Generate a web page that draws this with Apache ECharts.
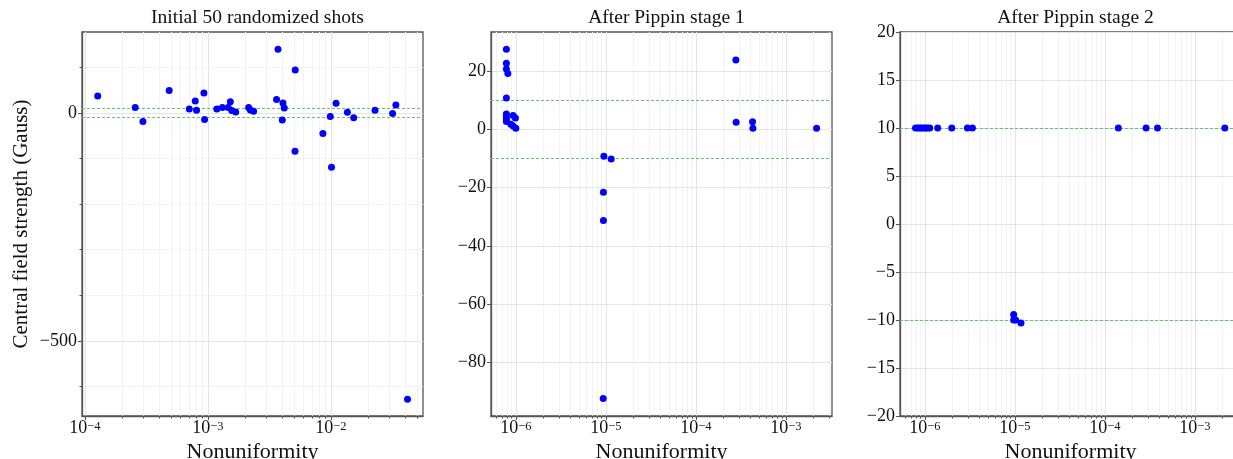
<!DOCTYPE html>
<html>
<head>
<meta charset="utf-8">
<script src="https://cdn.jsdelivr.net/npm/echarts@6/dist/echarts.min.js"></script>
<style>
html,body{margin:0;padding:0;background:#fff;}
#chart{width:1233px;height:459px;}
</style>
</head>
<body>
<div id="chart"></div>
<script>
// ---------- DATA ----------
const titles = ['Initial 50 randomized shots', 'After Pippin stage 1', 'After Pippin stage 2'];
const xAxisName = 'Nonuniformity';
const yAxisName = 'Central field strength (Gauss)';
const thresholds = [10, -10];

// Panel 1: initial shots
const p1x = [1.27e-4, 2.56e-4, 2.96e-4, 4.84e-4, 7.05e-4, 7.88e-4, 8.07e-4, 9.27e-4, 9.38e-4, 1.18e-3,
             1.31e-3, 1.46e-3, 1.52e-3, 1.56e-3, 1.68e-3, 2.14e-3, 2.21e-3, 2.35e-3, 3.61e-3, 3.71e-3,
             4.02e-3, 4.07e-3, 4.17e-3, 5.12e-3, 5.10e-3, 8.6e-3, 9.87e-3, 1.01e-2, 1.10e-2, 1.36e-2,
             1.53e-2, 2.28e-2, 3.17e-2, 3.37e-2, 4.19e-2];
const p1y = [37.6, 12, -18.7, 49.5, 9, 26.6, 6.2, 44, -14.3, 9,
             12, 12, 25, 5.5, 2.4, 12, 6.8, 4, 29.7, 140,
             -15, 22, 11, 94.7, -84, -45, -7.7, -119, 21.5, 1.8,
             -10, 6.2, -1, 17.8, -628];

// Panel 2: after stage 1
const p2x = [7.86e-7, 7.86e-7, 7.86e-7, 8.15e-7, 7.86e-7, 7.86e-7, 7.86e-7, 7.86e-7, 7.86e-7, 8.8e-7,
             9.33e-7, 9.9e-7, 9.33e-7, 1.0e-6, 2.78e-4, 2.8e-4, 4.26e-4, 4.3e-4, 2.19e-3,
             9.5e-6, 1.146e-5, 9.4e-6, 9.4e-6, 9.35e-6];
const p2y = [27.4, 22.6, 20.6, 19.1, 10.7, 5.2, 4.2, 3.3, 2.6, 1.7,
             4.7, 3.8, 1.1, 0.3, 23.7, 2.4, 2.5, 0.3, 0.3,
             -9.3, -10.2, -21.6, -31.3, -92.3];

// Panel 3: after stage 2
const p3x = [7.88e-7, 8.36e-7, 8.81e-7, 9.27e-7, 9.75e-7, 1.026e-6, 1.08e-6, 1.135e-6, 1.39e-6, 1.99e-6,
             2.97e-6, 3.38e-6, 1.41e-4, 2.87e-4, 3.84e-4, 2.15e-3,
             9.7e-6, 9.7e-6, 1.02e-5, 1.17e-5];
const p3y = [10, 10, 10, 10, 10, 10, 10, 10, 10, 10,
             10, 10, 10, 10, 10, 10,
             -9.42, -10, -10, -10.3];

// Axis ranges and tick values
const p1xRange = [9.46e-5, 0.056];
const p1yRange = [-665, 178];
const p2xRange = [5.3e-7, 3.25e-3];
const p2yRange = [-98.3, 33.3];
const p3xRange = [5.3e-7, 3.25e-3];
const p3yRange = [-20, 20];
const p1xTicks = [1e-4, 1e-3, 1e-2];
const p23xTicks = [1e-6, 1e-5, 1e-4, 1e-3];
const p1yTicks = [-500, 0];
const p1yMinorTicks = [-600, -400, -300, -200, -100, 100];
const p2yTicks = [-80, -60, -40, -20, 0, 20];
const p3yTicks = [-20, -15, -10, -5, 0, 5, 10, 15, 20];

// ---------- HELPERS ----------
function minorLog(range) {
  const out = [];
  const lo = Math.floor(Math.log10(range[0])), hi = Math.ceil(Math.log10(range[1]));
  for (let e = lo; e <= hi; e++) {
    for (let m = 2; m <= 9; m++) {
      const v = m * Math.pow(10, e);
      if (v >= range[0] && v <= range[1]) out.push(v);
    }
  }
  return out;
}
const FONT = '"Liberation Serif", "DejaVu Serif", serif';
const SPINE = '#555555';
const MAJOR_GRID = '#e4e4e4';
const MINOR_GRID = '#f3f3f3';
const fmtY = v => (v < 0 ? '\u2212' + (-v) : String(v));
const fmtX = v => '{b|10}{s|\u2212' + Math.round(-Math.log10(v)) + '}';

const grids = [
  {left: 82, top: 32, width: 341, height: 384},
  {left: 491, top: 32, width: 341, height: 384},
  {left: 900, top: 32, width: 341, height: 384}
];
grids.forEach(g => {
  g.show = true; g.borderColor = SPINE; g.borderWidth = 1.3; g.backgroundColor = 'transparent';
  g.containLabel = false; g.outerBoundsMode = 'none';
});

function majorX(gi, range, ticks) {
  return {
    type: 'log', logBase: 10, gridIndex: gi, min: range[0], max: range[1], position: 'bottom',
    name: xAxisName, nameLocation: 'middle', nameGap: 25, nameMoveOverlap: false,
    nameTextStyle: {fontFamily: FONT, fontSize: 22, lineHeight: 22, color: '#111'},
    axisLine: {show: true, onZero: false, lineStyle: {color: SPINE, width: 1.3}},
    axisTick: {show: true, customValues: ticks, length: 4, lineStyle: {color: SPINE}},
    axisLabel: {customValues: ticks, formatter: fmtX, margin: 4, color: '#111', hideOverlap: false,
      rich: {
        b: {fontFamily: FONT, fontSize: 18, lineHeight: 16, color: '#111'},
        s: {fontFamily: FONT, fontSize: 12.5, lineHeight: 9, verticalAlign: 'top', color: '#111'}
      }},
    splitLine: {show: true, lineStyle: {color: MAJOR_GRID, width: 1}},
    z: 2
  };
}
function minorX(gi, range) {
  const mv = minorLog(range);
  return {
    type: 'log', logBase: 10, gridIndex: gi, min: range[0], max: range[1], position: 'bottom',
    axisLine: {show: true, onZero: false, lineStyle: {color: 'rgba(0,0,0,0)'}},
    axisTick: {show: true, customValues: mv, length: 2.5, lineStyle: {color: SPINE, width: 1}},
    axisLabel: {show: false, customValues: mv},
    splitLine: {show: true, lineStyle: {color: MINOR_GRID, width: 1}},
    z: 1
  };
}
function majorY(gi, range, ticks, withName) {
  const ax = {
    type: 'value', gridIndex: gi, min: range[0], max: range[1], position: 'left',
    axisLine: {show: true, onZero: false, lineStyle: {color: SPINE, width: 1.3}},
    axisTick: {show: true, customValues: ticks, length: 4, lineStyle: {color: SPINE}},
    axisLabel: {customValues: ticks, formatter: fmtY, margin: 5, fontFamily: FONT, fontSize: 18, color: '#111'},
    splitLine: {show: true, lineStyle: {color: MAJOR_GRID, width: 1}},
    z: 2
  };
  if (withName) {
    ax.name = yAxisName; ax.nameLocation = 'middle'; ax.nameGap = 50; ax.nameMoveOverlap = false;
    ax.nameTextStyle = {fontFamily: FONT, fontSize: 21, color: '#111'};
  }
  return ax;
}
function minorY(gi, range, ticks) {
  return {
    type: 'value', gridIndex: gi, min: range[0], max: range[1], position: 'left', offset: 0,
    axisLine: {show: true, onZero: false, lineStyle: {color: 'rgba(0,0,0,0)'}},
    axisTick: {show: true, customValues: ticks, length: 2.5, lineStyle: {color: SPINE, width: 1}},
    axisLabel: {show: false, customValues: ticks},
    splitLine: {show: true, lineStyle: {color: MINOR_GRID, width: 1}},
    z: 1
  };
}
function pairs(xs, ys) { return xs.map((x, i) => [x, ys[i]]); }
function scatter(xi, yi, xs, ys) {
  return {
    type: 'scatter', xAxisIndex: xi, yAxisIndex: yi, data: pairs(xs, ys),
    symbolSize: 7, itemStyle: {color: '#0000ff', opacity: 1}, z: 5,
    markLine: {
      silent: true, symbol: 'none', label: {show: false}, z: 3,
      lineStyle: {color: '#6cbf6c', type: [3, 2], width: 1, opacity: 1},
      emphasis: {disabled: true},
      data: thresholds.map(v => ({yAxis: v, lineStyle: {color: '#6cbf6c', type: [3, 2], width: 1}}))
    }
  };
}

const option = {
  animation: false,
  backgroundColor: '#ffffff',
  title: titles.map((t, i) => ({
    text: t, left: grids[i].left + grids[i].width / 2, top: 3, textAlign: 'center',
    textStyle: {fontFamily: FONT, fontSize: 19.5, fontWeight: 'normal', color: '#111'}
  })),
  grid: grids,
  xAxis: [
    majorX(0, p1xRange, p1xTicks), minorX(0, p1xRange),
    majorX(1, p2xRange, p23xTicks), minorX(1, p2xRange),
    majorX(2, p3xRange, p23xTicks), minorX(2, p3xRange)
  ],
  yAxis: [
    majorY(0, p1yRange, p1yTicks, true), minorY(0, p1yRange, p1yMinorTicks),
    majorY(1, p2yRange, p2yTicks, false),
    majorY(2, p3yRange, p3yTicks, false)
  ],
  series: [
    scatter(0, 0, p1x, p1y),
    scatter(2, 2, p2x, p2y),
    scatter(4, 3, p3x, p3y)
  ]
};
const chart = echarts.init(document.getElementById('chart'), null, {renderer: 'canvas'});
chart.setOption(option);
</script>
</body>
</html>
